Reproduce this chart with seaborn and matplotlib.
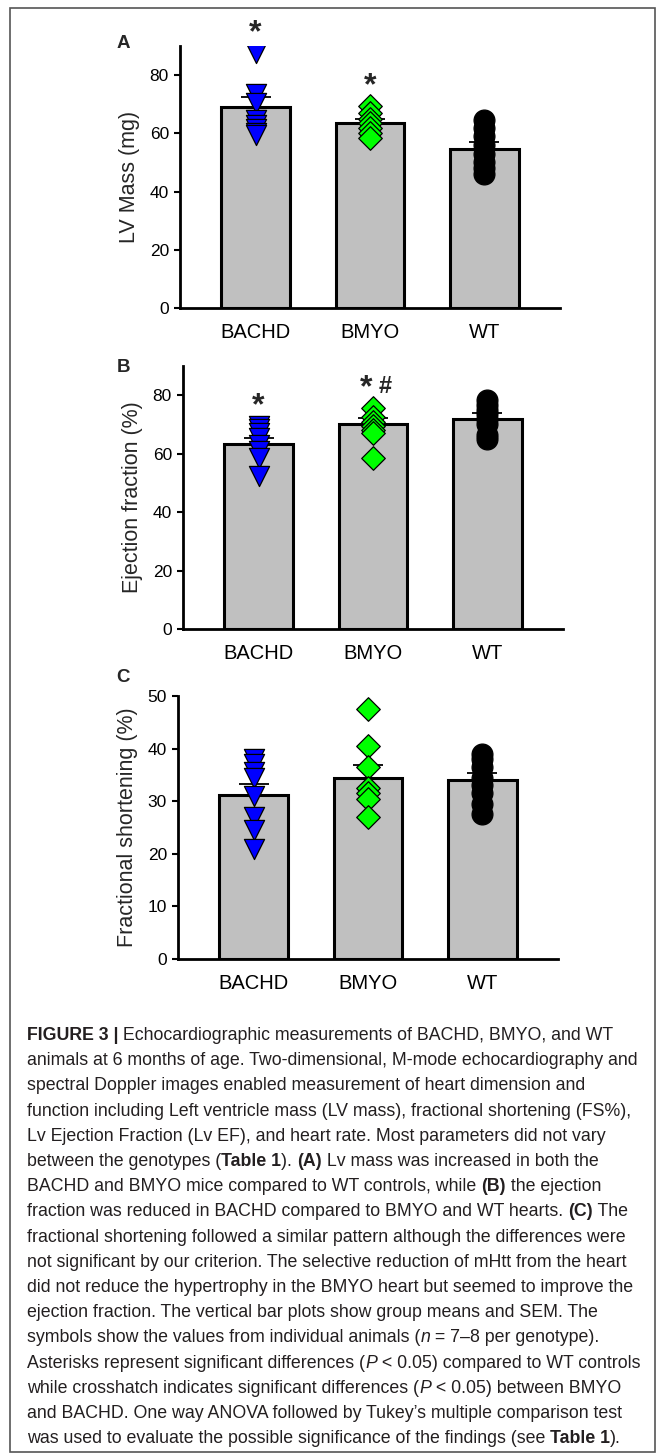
import numpy as np
import seaborn as sns
import matplotlib.pyplot as plt
from matplotlib.patches import Rectangle

groups = ['BACHD', 'BMYO', 'WT']

# panel A - LV mass (mg): bar means, SEM, individual animals
lv_mean = [69.2, 63.7, 54.6]
lv_sem = [3.2, 1.3, 2.5]
lv_bachd = [87.5, 73.5, 70.5, 64.5, 63.0, 61.5, 60.0, 59.5]
lv_bmyo = [69.5, 67.0, 65.0, 63.5, 62.0, 60.0, 58.5]
lv_wt = [64.5, 62.0, 59.0, 56.0, 53.0, 50.0, 48.0, 46.0]

# panel B - ejection fraction (%)
ef_mean = [63.4, 70.3, 71.8]
ef_sem = [1.8, 2.0, 2.0]
ef_bachd = [69.5, 68.5, 67.0, 65.5, 63.0, 61.0, 58.5, 52.5]
ef_bmyo = [75.5, 72.5, 71.0, 69.5, 68.0, 67.0, 58.5]
ef_wt = [78.5, 76.5, 75.0, 73.5, 72.0, 70.0, 66.5, 65.0]

# panel C - fractional shortening (%)
fs_mean = [31.1, 34.5, 34.0]
fs_sem = [2.2, 2.3, 1.4]
fs_bachd = [38.0, 37.0, 35.5, 34.5, 31.0, 27.0, 24.5, 21.0]
fs_bmyo = [47.5, 40.5, 36.5, 32.5, 31.5, 30.5, 27.0]
fs_wt = [39.0, 38.0, 36.5, 34.5, 33.0, 31.5, 29.5, 27.5]

# significance marks (group index, marks)
sig_a = [(0, '*'), (1, '*')]
sig_b = [(0, '*'), (1, '*#')]
sig_c = []

# caption lines, segments as (text, style): n normal, b bold, i italic
caption = [
    [('FIGURE 3 |', 'b'), (' Echocardiographic measurements of BACHD, BMYO, and WT', 'n')],
    [('animals at 6 months of age. Two-dimensional, M-mode echocardiography and', 'n')],
    [('spectral Doppler images enabled measurement of heart dimension and', 'n')],
    [('function including Left ventricle mass (LV mass), fractional shortening (FS%),', 'n')],
    [('Lv Ejection Fraction (Lv EF), and heart rate. Most parameters did not vary', 'n')],
    [('between the genotypes (', 'n'), ('Table 1', 'b'), ('). ', 'n'), ('(A)', 'b'),
     (' Lv mass was increased in both the', 'n')],
    [('BACHD and BMYO mice compared to WT controls, while ', 'n'), ('(B)', 'b'), (' the ejection', 'n')],
    [('fraction was reduced in BACHD compared to BMYO and WT hearts. ', 'n'), ('(C)', 'b'), (' The', 'n')],
    [('fractional shortening followed a similar pattern although the differences were', 'n')],
    [('not significant by our criterion. The selective reduction of mHtt from the heart', 'n')],
    [('did not reduce the hypertrophy in the BMYO heart but seemed to improve the', 'n')],
    [('ejection fraction. The vertical bar plots show group means and SEM. The', 'n')],
    [('symbols show the values from individual animals (', 'n'), ('n', 'i'), (' = 7\u20138 per genotype).', 'n')],
    [('Asterisks represent significant differences (', 'n'), ('P', 'i'), (' < 0.05) compared to WT controls', 'n')],
    [('while crosshatch indicates significant differences (', 'n'), ('P', 'i'), (' < 0.05) between BMYO', 'n')],
    [('and BACHD. One way ANOVA followed by Tukey\u2019s multiple comparison test', 'n')],
    [('was used to evaluate the possible significance of the findings (see ', 'n'), ('Table 1', 'b'), (').', 'n')],
]

W, H = 665, 1455
sns.set_style('ticks')
plt.rcParams['font.family'] = ['Liberation Sans', 'DejaVu Sans']

fig = plt.figure(figsize=(W / 100, H / 100), dpi=100)

point_styles = [
    dict(marker='v', size=14.5, color='#0000ff'),
    dict(marker='D', size=12, color='#00ff00'),
    dict(marker='o', size=15, color='black'),
]


def px_axes(left, top, right, bottom):
    return fig.add_axes([left / W, 1 - bottom / H, (right - left) / W, (bottom - top) / H])


def draw_panel(ax, means, sems, pts, ylabel, ylim, yticks, letter, letter_xy, sig):
    sns.barplot(x=groups, y=means, color='#c0c0c0', saturation=1, edgecolor='black',
                linewidth=2.2, width=0.6, errorbar=None, ax=ax, zorder=1)
    ax.errorbar(np.arange(len(groups)), means, yerr=[np.zeros(len(means)), sems],
                fmt='none', ecolor='black', elinewidth=1.3, capsize=11, capthick=1.3, zorder=2)
    for i, vals in enumerate(pts):
        st = point_styles[i]
        sns.stripplot(x=[groups[i]] * len(vals), y=vals, order=groups, jitter=False,
                      marker=st['marker'], size=st['size'], color=st['color'],
                      edgecolor='black', linewidth=0.9, ax=ax, zorder=3)
    for i, marks in sig:
        ytop = max(pts[i]) + 8.5 * (ylim[1] / 90)
        if marks == '*':
            ax.annotate('*', xy=(i, ytop), xytext=(0, -9.5), textcoords='offset points',
                        ha='center', va='baseline', fontsize=23, fontweight='bold',
                        annotation_clip=False)
        else:
            ax.annotate('*', xy=(i, ytop), xytext=(-5, -9.5), textcoords='offset points',
                        ha='center', va='baseline', fontsize=23, fontweight='bold',
                        annotation_clip=False)
            ax.annotate('#', xy=(i, ytop), xytext=(8.5, -6.5), textcoords='offset points',
                        ha='center', va='baseline', fontsize=17, fontweight='bold',
                        annotation_clip=False)
    ax.set_xlim(-0.66, 2.66)
    ax.set_ylim(*ylim)
    ax.set_yticks(yticks)
    ax.set_xlabel('')
    ax.set_ylabel(ylabel, fontsize=15.5, labelpad=7)
    ax.tick_params(axis='x', length=0, pad=11, labelsize=14.5, colors='black')
    ax.tick_params(axis='y', length=4, width=1.5, pad=4, labelsize=12.5, colors='black')
    sns.despine(ax=ax)
    for s in ['left', 'bottom']:
        ax.spines[s].set_linewidth(2)
        ax.spines[s].set_color('black')
    fig.text(letter_xy[0] / W, 1 - letter_xy[1] / H, letter, fontsize=13.5, fontweight='bold',
             ha='center', va='center')


ax_a = px_axes(180, 46, 560, 308)
draw_panel(ax_a, lv_mean, lv_sem, [lv_bachd, lv_bmyo, lv_wt], 'LV Mass (mg)',
           (0, 90), [0, 20, 40, 60, 80], 'A', (123, 43), sig_a)

ax_b = px_axes(183, 366, 563, 629)
draw_panel(ax_b, ef_mean, ef_sem, [ef_bachd, ef_bmyo, ef_wt], 'Ejection fraction (%)',
           (0, 90), [0, 20, 40, 60, 80], 'B', (123, 367), sig_b)

ax_c = px_axes(178, 696, 558, 959)
draw_panel(ax_c, fs_mean, fs_sem, [fs_bachd, fs_bmyo, fs_wt], 'Fractional shortening (%)',
           (0, 50), [0, 10, 20, 30, 40, 50], 'C', (123, 678), sig_c)

# caption, drawn piece by piece so bold / italic runs sit inline
renderer = fig.canvas.get_renderer()
cap_size = 12.8
x0, y0, dy = 27, 1040, 25.2
weights = {'n': ('normal', 'normal'), 'b': ('bold', 'normal'), 'i': ('normal', 'italic')}
for k, line in enumerate(caption):
    x = x0
    y = y0 + k * dy
    for txt, st in line:
        wt, sl = weights[st]
        t = fig.text(x / W, 1 - y / H, txt, fontsize=cap_size, fontweight=wt, fontstyle=sl,
                     ha='left', va='baseline', color='#231f20')
        x += t.get_window_extent(renderer).width

fig.add_artist(Rectangle((10 / W, 1 - 1452 / H), 645 / W, 1444 / H, transform=fig.transFigure,
                         fill=False, edgecolor='#555555', linewidth=1.2))

fig.savefig('out.png', dpi=100)
